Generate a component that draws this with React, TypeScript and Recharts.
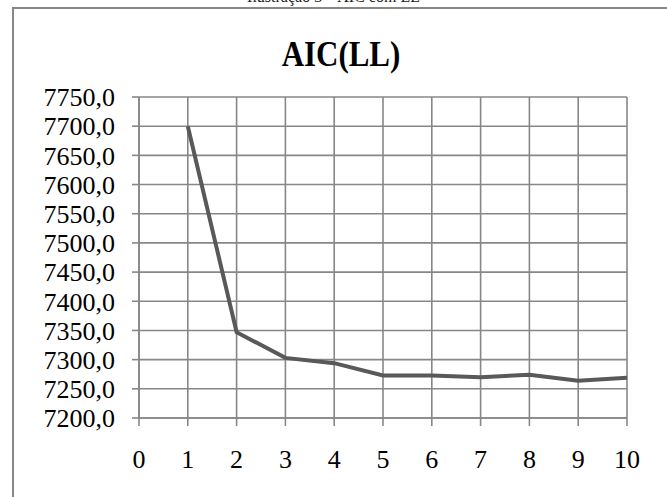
import {
  LineChart,
  Line,
  XAxis,
  YAxis,
  CartesianGrid,
} from "recharts";

// Number of clusters vs AIC(LL)
const CLUSTERS = [1, 2, 3, 4, 5, 6, 7, 8, 9, 10];
const AIC_LL = [7700, 7347, 7303, 7294, 7273, 7273, 7270, 7274, 7264, 7269];

const X_TICKS = [0, 1, 2, 3, 4, 5, 6, 7, 8, 9, 10];
const Y_TICKS = [7200, 7250, 7300, 7350, 7400, 7450, 7500, 7550, 7600, 7650, 7700, 7750];

const data = CLUSTERS.map((c, i) => ({ x: c, aic: AIC_LL[i] }));

const GRID = "#878787";
const FONT = "'Liberation Serif', 'Times New Roman', serif";

const fmt = (v: number) => v.toFixed(1).replace(".", ",");

export default function App() {
  return (
    <div
      style={{
        position: "fixed",
        left: 0,
        top: 0,
        width: 667,
        height: 497,
        overflow: "hidden",
        background: "#fff",
        fontFamily: FONT,
      }}
    >
      {/* caption of the page, cut off at the top */}
      <div
        style={{
          position: "absolute",
          left: 0,
          width: 667,
          top: -13,
          textAlign: "center",
          fontSize: 16,
          lineHeight: "20px",
          color: "#222",
        }}
      >
        Ilustração 3 – AIC com LL
      </div>
      {/* outer frame */}
      <div
        style={{
          position: "absolute",
          left: 12,
          top: 7,
          width: 700,
          height: 560,
          border: `2px solid ${GRID}`,
        }}
      />
      <div
        style={{
          position: "absolute",
          left: 0,
          width: 682,
          top: 34,
          textAlign: "center",
          fontSize: 36,
          lineHeight: "40px",
          fontWeight: "bold",
          transform: "scaleX(0.86)",
          color: "#000",
        }}
      >
        AIC(LL)
      </div>
      <div style={{ position: "absolute", left: 0, top: 0 }}>
        <LineChart
          width={667}
          height={497}
          data={data}
          margin={{ top: 97, right: 40, left: 0, bottom: 19 }}
        >
          <CartesianGrid stroke={GRID} strokeWidth={1.6} verticalValues={X_TICKS} horizontalValues={Y_TICKS} />
          <XAxis
            dataKey="x"
            type="number"
            domain={[0, 10]}
            ticks={X_TICKS}
            interval={0}
            height={60}
            tickSize={8}
            tickMargin={24}
            axisLine={{ stroke: GRID, strokeWidth: 1.6 }}
            tickLine={{ stroke: GRID, strokeWidth: 1.6 }}
            tick={{ fill: "#000", fontSize: 26, fontFamily: FONT }}
          />
          <YAxis
            type="number"
            domain={[7200, 7750]}
            ticks={Y_TICKS}
            interval={0}
            width={139}
            tickSize={7}
            tickMargin={17}
            tickFormatter={fmt}
            axisLine={{ stroke: GRID, strokeWidth: 1.6 }}
            tickLine={{ stroke: GRID, strokeWidth: 1.6 }}
            tick={{ fill: "#000", fontSize: 26, fontFamily: FONT }}
          />
          <Line
            type="linear"
            dataKey="aic"
            stroke="#595959"
            strokeWidth={4}
            dot={false}
            isAnimationActive={false}
          />
        </LineChart>
      </div>
    </div>
  );
}
